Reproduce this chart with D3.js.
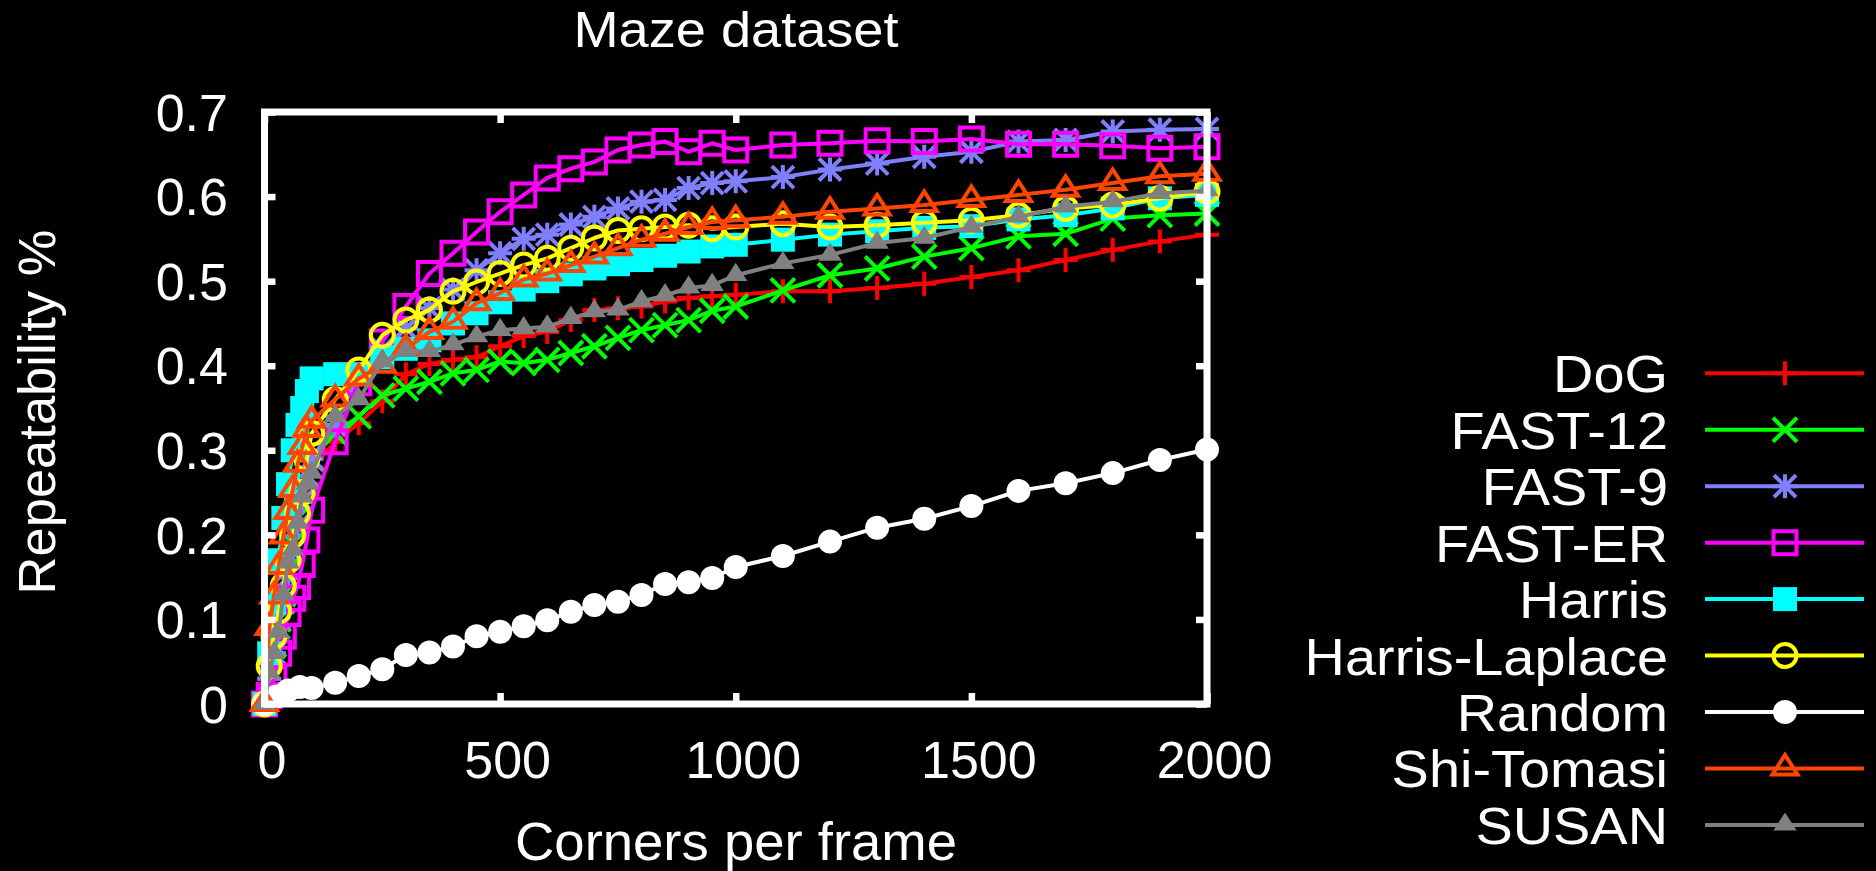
<!DOCTYPE html>
<html><head><meta charset="utf-8">
<script src="https://cdn.jsdelivr.net/npm/d3@7"></script>
<style>
html,body{margin:0;padding:0;background:#000;}
svg{display:block;}
text{font-family:"Liberation Sans",Arial,Helvetica,sans-serif;fill:#fff;font-size:52px;}
</style></head><body>
<svg id="chart" width="1876" height="871"></svg>
<script>
// Corners per frame sampled for each detector
const corners = [0,10,20,30,40,50,60,70,80,90,100,150,200,250,300,350,400,450,500,550,600,650,700,750,800,850,900,950,1000,1100,1200,1300,1400,1500,1600,1700,1800,1900,2000];
const randomCorners = [0,25,50,75,100,150,200,250,300,350,400,450,500,550,600,650,700,750,800,850,900,950,1000,1100,1200,1300,1400,1500,1600,1700,1800,1900,2000];

// Repeatability per detector
const dogRep = [0,0.03,0.06,0.09,0.12,0.15,0.18,0.21,0.24,0.26,0.28,0.31,0.332,0.358,0.39,0.402,0.407,0.41,0.423,0.435,0.44,0.454,0.466,0.468,0.47,0.476,0.48,0.482,0.484,0.488,0.488,0.492,0.497,0.505,0.513,0.525,0.537,0.547,0.555];
const fast12Rep = [0,0.03,0.07,0.10,0.13,0.16,0.19,0.22,0.25,0.27,0.29,0.32,0.34,0.365,0.373,0.381,0.391,0.395,0.405,0.403,0.407,0.415,0.423,0.433,0.442,0.448,0.454,0.465,0.47,0.489,0.507,0.515,0.529,0.539,0.553,0.556,0.574,0.578,0.58];
const fast9Rep = [0,0.03,0.06,0.09,0.12,0.15,0.18,0.21,0.24,0.27,0.29,0.33,0.39,0.42,0.444,0.468,0.49,0.513,0.533,0.55,0.555,0.567,0.576,0.586,0.594,0.596,0.61,0.616,0.618,0.623,0.632,0.639,0.647,0.653,0.665,0.667,0.677,0.679,0.68];
const fastErRep = [0,0.01,0.03,0.06,0.08,0.107,0.125,0.139,0.165,0.194,0.229,0.31,0.38,0.428,0.47,0.509,0.533,0.558,0.582,0.602,0.622,0.633,0.641,0.655,0.661,0.665,0.653,0.663,0.655,0.661,0.663,0.666,0.665,0.668,0.662,0.662,0.66,0.657,0.659];
const harrisRep = [0,0.06,0.12,0.17,0.22,0.26,0.30,0.33,0.35,0.37,0.385,0.39,0.39,0.41,0.42,0.43,0.45,0.462,0.475,0.49,0.50,0.508,0.515,0.52,0.525,0.53,0.535,0.541,0.543,0.549,0.555,0.559,0.563,0.565,0.573,0.578,0.586,0.598,0.602];
const harrisLaplaceRep = [0,0.045,0.08,0.11,0.14,0.17,0.2,0.225,0.25,0.29,0.32,0.36,0.395,0.436,0.454,0.466,0.488,0.499,0.509,0.519,0.527,0.539,0.551,0.56,0.562,0.564,0.566,0.562,0.564,0.568,0.564,0.566,0.569,0.572,0.578,0.586,0.59,0.598,0.606];
const randomRep = [0,0.009,0.016,0.02,0.019,0.025,0.033,0.041,0.058,0.061,0.068,0.08,0.0855,0.092,0.099,0.109,0.117,0.121,0.129,0.142,0.144,0.149,0.162,0.175,0.192,0.2085,0.219,0.234,0.252,0.261,0.273,0.2885,0.301];
const shiTomasiRep = [0,0.09,0.127,0.162,0.198,0.227,0.253,0.283,0.304,0.324,0.335,0.36,0.385,0.40,0.42,0.44,0.452,0.474,0.486,0.502,0.509,0.519,0.529,0.539,0.549,0.556,0.564,0.57,0.572,0.576,0.582,0.586,0.59,0.596,0.602,0.608,0.616,0.624,0.627];
const susanRep = [0,0.037,0.06,0.085,0.129,0.167,0.182,0.214,0.245,0.26,0.273,0.34,0.36,0.405,0.417,0.417,0.425,0.4345,0.442,0.444,0.446,0.456,0.464,0.466,0.476,0.483,0.492,0.495,0.507,0.521,0.531,0.545,0.551,0.564,0.576,0.588,0.594,0.604,0.607];

const xTickValues = [0,500,1000,1500,2000];
const xTickLabels = ["0","500","1000","1500","2000"];
const yTickValues = [0,0.1,0.2,0.3,0.4,0.5,0.6,0.7];
const yTickLabels = ["0","0.1","0.2","0.3","0.4","0.5","0.6","0.7"];

const series = [
  {name:"DoG",            xs:corners,       ys:dogRep,           color:"#ff0000", marker:"plus"},
  {name:"FAST-12",        xs:corners,       ys:fast12Rep,        color:"#00ff00", marker:"cross"},
  {name:"FAST-9",         xs:corners,       ys:fast9Rep,         color:"#7f7fff", marker:"star"},
  {name:"FAST-ER",        xs:corners,       ys:fastErRep,        color:"#ff00ff", marker:"square"},
  {name:"Harris",         xs:corners,       ys:harrisRep,        color:"#00ffff", marker:"squareFilled"},
  {name:"Harris-Laplace", xs:corners,       ys:harrisLaplaceRep, color:"#ffff00", marker:"circle"},
  {name:"Random",         xs:randomCorners, ys:randomRep,        color:"#ffffff", marker:"circleFilled"},
  {name:"Shi-Tomasi",     xs:corners,       ys:shiTomasiRep,     color:"#ff4500", marker:"triangle"},
  {name:"SUSAN",          xs:corners,       ys:susanRep,         color:"#808080", marker:"triangleFilled"}
];

const svg = d3.select("#chart");
svg.append("rect").attr("width",1876).attr("height",871).attr("fill","#000");

const x = d3.scaleLinear().domain([0,2000]).range([264.5,1207]);
const y = d3.scaleLinear().domain([0,0.7]).range([704,112]);

function markerShape(type){
  switch(type){
    case "plus": return {d:"M-12,0H12M0,-12V12", fill:false};
    case "cross": return {d:"M-12,-12L12,12M-12,12L12,-12", fill:false};
    case "star": return {d:"M-12,0H12M0,-12V12M-11,-11L11,11M-11,11L11,-11", fill:false};
    case "square": return {d:"M-11.5,-11.5H11.5V11.5H-11.5Z", fill:false};
    case "squareFilled": return {d:"M-12,-12H12V12H-12Z", fill:true};
    case "circle": return {fill:false, circle:11.5};
    case "circleFilled": return {fill:true, circle:12};
    case "triangle": return {d:"M0,-13.5L12.5,6H-12.5Z", fill:false};
    case "triangleFilled": return {d:"M0,-12.5L11.7,5.7H-11.7Z", fill:true};
  }
}

function drawMarker(sel, s){
  const m = markerShape(s.marker);
  if (m.circle){
    sel.append("circle").attr("r", m.circle)
      .attr("fill", m.fill ? s.color : "none")
      .attr("stroke", s.color).attr("stroke-width", m.fill ? 0 : 4);
  } else {
    sel.append("path").attr("d", m.d)
      .attr("fill", m.fill ? s.color : "none")
      .attr("stroke", s.color).attr("stroke-width", m.fill ? 0 : 4)
      .attr("stroke-linejoin","miter");
  }
}

const line = d3.line().x(d => x(d[0])).y(d => y(d[1]));
const plot = svg.append("g");

series.forEach(s => {
  const pts = s.xs.map((c,i) => [c, s.ys[i]]);
  const g = plot.append("g");
  g.append("path").attr("d", line(pts))
    .attr("fill","none").attr("stroke", s.color)
    .attr("stroke-width", 4).attr("stroke-linejoin","round");
  g.selectAll("g.pt").data(pts).join("g").attr("class","pt")
    .attr("transform", d => `translate(${x(d[0])},${y(d[1])})`)
    .each(function(){ drawMarker(d3.select(this), s); });
});

// Axes with inward ticks on all four sides
const tickLen = 11;
function styleAxis(g){
  g.select(".domain").remove();
  g.selectAll(".tick line").attr("stroke","#fff").attr("stroke-width",6.5);
}
svg.append("g").attr("transform","translate(0,704)")
  .call(d3.axisBottom(x).tickValues(xTickValues).tickSizeInner(-tickLen).tickSizeOuter(0).tickPadding(0)
    .tickFormat((d,i) => xTickLabels[i]))
  .call(styleAxis)
  .call(g => g.selectAll(".tick text").attr("y",74).attr("dy",0).attr("dx",7)
    .attr("fill","#fff").style("font-size","52px").style("font-family","'Liberation Sans',Arial,sans-serif"));
svg.append("g").attr("transform","translate(0,112)")
  .call(d3.axisTop(x).tickValues(xTickValues).tickSizeInner(-tickLen).tickSizeOuter(0).tickFormat(""))
  .call(styleAxis);
svg.append("g").attr("transform","translate(264.5,0)")
  .call(d3.axisLeft(y).tickValues(yTickValues).tickSizeInner(-tickLen).tickSizeOuter(0)
    .tickFormat((d,i) => yTickLabels[i]))
  .call(styleAxis)
  .call(g => g.selectAll(".tick text").attr("x",-36.5).attr("dy","0.35em")
    .attr("fill","#fff").style("font-size","52px").style("font-family","'Liberation Sans',Arial,sans-serif"));
svg.append("g").attr("transform","translate(1207,0)")
  .call(d3.axisRight(y).tickValues(yTickValues).tickSizeInner(-tickLen).tickSizeOuter(0).tickFormat(""))
  .call(styleAxis);

// Border
svg.append("rect")
  .attr("x", x(0)).attr("y", y(0.7))
  .attr("width", x(2000) - x(0)).attr("height", y(0) - y(0.7))
  .attr("fill","none").attr("stroke","#fff").attr("stroke-width",7);

// Titles
svg.append("text").attr("x",736).attr("y",47).attr("text-anchor","middle")
  .style("font-size","50px").attr("textLength",325).attr("lengthAdjust","spacingAndGlyphs")
  .text("Maze dataset");
svg.append("text").attr("x",736).attr("y",860).attr("text-anchor","middle")
  .style("font-size","53px").attr("textLength",442).attr("lengthAdjust","spacingAndGlyphs")
  .text("Corners per frame");
svg.append("text").attr("transform","translate(55,412) rotate(-90)").attr("text-anchor","middle")
  .style("font-size","52.5px").text("Repeatability %");

// Legend
const legend = svg.append("g");
series.forEach((s,i) => {
  const ry = 373.3 + i*56.45;
  const g = legend.append("g");
  g.append("g").attr("transform",`translate(1668,${ry+19}) scale(1.075,1)`)
    .append("text").attr("x",0).attr("y",0).attr("text-anchor","end").style("font-size","52px").text(s.name);
  g.append("line").attr("x1",1705).attr("x2",1864).attr("y1",ry).attr("y2",ry)
    .attr("stroke",s.color).attr("stroke-width",4);
  const mg = g.append("g").attr("transform",`translate(1785,${ry})`);
  drawMarker(mg, s);
});
</script>
</body></html>
